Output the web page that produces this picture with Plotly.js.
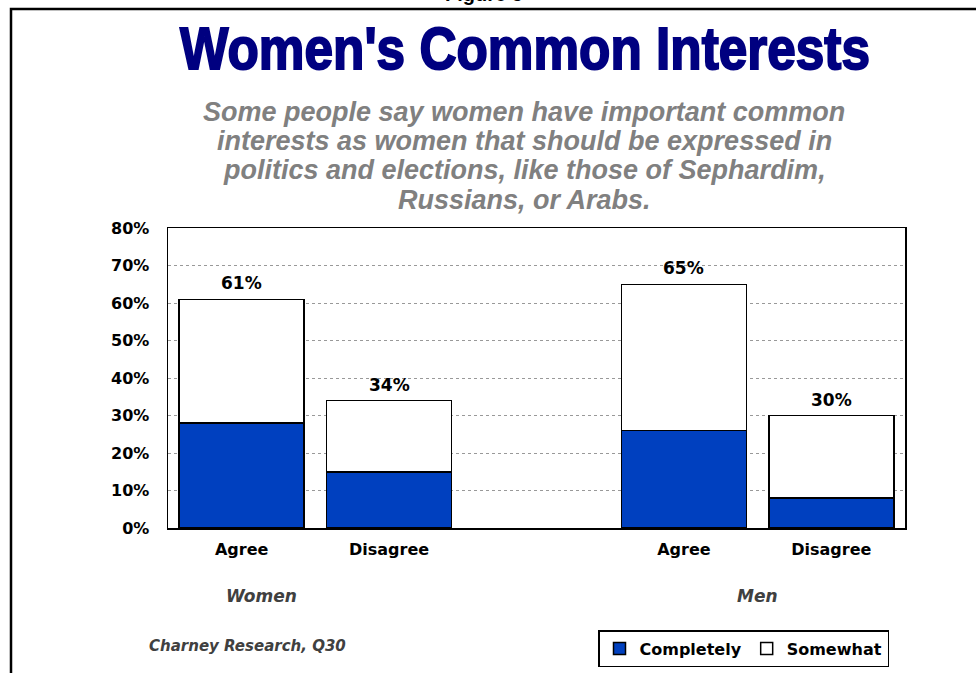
<!DOCTYPE html>
<html>
<head>
<meta charset="utf-8">
<script src="https://cdn.plot.ly/plotly-3.0.1.min.js"></script>
<style>html,body{margin:0;padding:0;background:#fff;}#chart{width:976px;height:673px;}</style>
</head>
<body>
<div id="chart"></div>
<script>
// Data
const slots = [0, 1, 3, 4];
const answers = ["Agree", "Disagree", "Agree", "Disagree"];
const groups = ["Women", "Men"];
const completely = [28, 15, 26, 8];
const somewhat = [33, 19, 39, 22];
const totals = [61, 34, 65, 30];
const yTicks = [0, 10, 20, 30, 40, 50, 60, 70, 80];
const yTickText = ["0%", "10%", "20%", "30%", "40%", "50%", "60%", "70%", "80%"];
const subtitleLines = [
  "Some people say women have important common",
  "interests as women that should be expressed in",
  "politics and elections, like those of Sephardim,",
  "Russians, or Arabs."
];

const AR = "Arial, 'Liberation Sans', Helvetica, sans-serif";
const DV = "'DejaVu Sans', Verdana, sans-serif";
const barLine = {color: "#000000", width: 1.5};

const traces = [
  {type: "bar", name: "Completely", x: slots, y: completely,
   marker: {color: "#0040BF", line: barLine}, width: 0.848, hoverinfo: "skip"},
  {type: "bar", name: "Somewhat", x: slots, y: somewhat,
   marker: {color: "#FFFFFF", line: barLine}, width: 0.848, hoverinfo: "skip"}
];

// pixel -> paper helpers (plot area: y 228..528, x 168..905)
const py = p => (528 - p) / 300;
const px = p => (p - 168) / 737;

const annotations = [];
slots.forEach((s, i) => {
  annotations.push({x: s, y: totals[i], xref: "x", yref: "y", text: "<b>" + totals[i] + "%</b>",
    showarrow: false, yanchor: "bottom", yshift: 4,
    font: {family: DV, size: 17, color: "#000"}});
});
annotations.push({x: px(261), y: py(596), xref: "paper", yref: "paper", xanchor: "center", yanchor: "middle",
  text: "<b><i>" + groups[0] + "</i></b>",
  showarrow: false, font: {family: DV, size: 17, color: "#404040"}});
annotations.push({x: px(757), y: py(596), xref: "paper", yref: "paper", xanchor: "center", yanchor: "middle",
  text: "<b><i>" + groups[1] + "</i></b>",
  showarrow: false, font: {family: DV, size: 17, color: "#404040"}});
annotations.push({x: px(247), y: py(646), xref: "paper", yref: "paper", xanchor: "center", yanchor: "middle",
  text: "<b><i>Charney Research, Q30</i></b>",
  showarrow: false, font: {family: DV, size: 15, color: "#404040"}});
const subY = [112, 141, 170, 200];
subtitleLines.forEach((ln, i) => {
  annotations.push({x: px(524), y: py(subY[i]), xref: "paper", yref: "paper", xanchor: "center", yanchor: "middle",
    text: "<b><i>" + ln + "</i></b>", showarrow: false,
    font: {family: AR, size: 27, color: "#808080"}});
});
annotations.push({x: px(484), y: py(-6), xref: "paper", yref: "paper", xanchor: "center", yanchor: "middle",
  text: "<b>Figure 5</b>", showarrow: false, font: {family: AR, size: 20, color: "#000"}});

const layout = {
  width: 976, height: 673,
  margin: {l: 168, r: 71, t: 228, b: 145},
  paper_bgcolor: "#ffffff", plot_bgcolor: "#ffffff",
  barmode: "stack",
  title: {text: "<b>Women's Common Interests</b>", x: 525 / 976, xanchor: "center", y: 1 - 48 / 673, yanchor: "middle",
    xref: "container", yref: "container",
    font: {family: AR, size: 60, color: "#000080"}},
  xaxis: {range: [-0.5, 4.5], tickvals: slots, ticktext: answers, showgrid: false, zeroline: false,
    showline: true, linecolor: "#000", linewidth: 1.5, mirror: true, ticks: "", ticklabelstandoff: 6,
    tickfont: {family: DV, size: 16, color: "#000", weight: 700}, fixedrange: true},
  yaxis: {range: [0, 80], tickvals: yTicks, ticktext: yTickText, showgrid: true, gridcolor: "#999999",
    griddash: "dot", gridwidth: 1, zeroline: false, showline: true, linecolor: "#000", linewidth: 1.5,
    mirror: true, ticks: "", ticklabelstandoff: 14,
    tickfont: {family: DV, size: 16, color: "#000", weight: 700}, fixedrange: true},
  showlegend: true,
  legend: {orientation: "h", xref: "container", yref: "container", x: 598 / 976, xanchor: "left",
    y: (673 - 667) / 673, yanchor: "bottom",
    bgcolor: "#fff", bordercolor: "#000", borderwidth: 1.5,
    font: {family: DV, size: 16, color: "#000", weight: 700}, traceorder: "normal"},
  annotations: annotations,
  shapes: [{type: "rect", xref: "paper", yref: "paper", x0: px(11), x1: px(1100), y0: py(9), y1: py(800),
    line: {color: "#000", width: 2.5}, fillcolor: "rgba(0,0,0,0)", layer: "above"}]
};

Plotly.newPlot("chart", traces, layout, {displayModeBar: false, staticPlot: true}).then(gd => {
  // condense the title horizontally to mimic the original heavy condensed typeface
  const t = gd.querySelector(".g-gtitle text");
  if (t) {
    const bb = t.getBBox();
    const cx = bb.x + bb.width / 2;
    const s = 690 / bb.width;
    t.setAttribute("transform", "translate(" + cx + ",0) scale(" + s + ",1) translate(" + (-cx) + ",0)");
    t.style.stroke = "#000080";
    t.style.strokeWidth = "2px";
  }
});
</script>
</body>
</html>
